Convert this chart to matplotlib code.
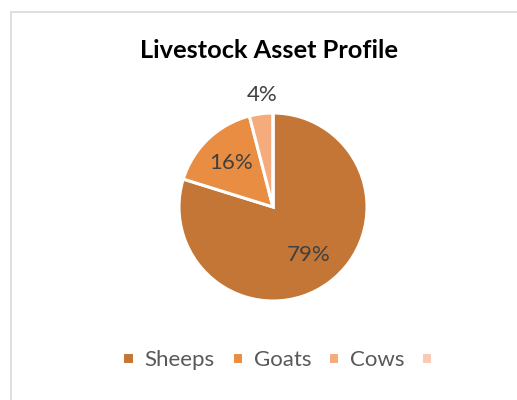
import numpy as np
import matplotlib.pyplot as plt
from matplotlib.patches import Rectangle

# livestock share, percent
animals = ["Sheeps", "Goats", "Cows", ""]
shares = [79, 16, 4, 0]
colors = ["#C37636", "#E98D43", "#F5AB7C", "#F8CBB2"]

plt.rcParams["font.family"] = ["Lato", "DejaVu Sans"]

fig = plt.figure(figsize=(5.17, 4.0), dpi=100)
W, H = 517, 400

# chart area outline
fig.patches.append(Rectangle((11 / W, -0.1), 1.2, (400 - 12) / H + 0.1,
                             transform=fig.transFigure, fill=False,
                             edgecolor="#D9D9D9", linewidth=1.2))

fig.text(269 / W, 1 - 51 / H, "Livestock Asset Profile", ha="center", va="center",
         fontsize=18.3, fontweight="bold", color="black")

cx, cy, r = 273, 207, 94
ax = fig.add_axes([(cx - r) / W, (H - cy - r) / H, 2 * r / W, 2 * r / H])
wedges, _ = ax.pie(shares, colors=colors, startangle=90, counterclock=False,
                   radius=1, wedgeprops=dict(edgecolor="white", linewidth=2.2))
ax.set_xlim(-1, 1)
ax.set_ylim(-1, 1)
ax.axis("off")

# data labels: inside for big slices, outside for the small one
for w, v in zip(wedges, shares):
    if v == 0:
        continue
    mid = np.deg2rad((w.theta1 + w.theta2) / 2)
    d = 0.64 if v > 10 else 1.2
    x, y = d * np.cos(mid), d * np.sin(mid)
    if v <= 10:
        x += 0.04
    ax.text(x, y, f"{v}%", ha="center", va="center", fontsize=16,
            color="#404040", clip_on=False)

fig.legend(wedges, animals, loc="center", bbox_to_anchor=(283 / W, 1 - 360 / H),
           ncol=4, frameon=False, fontsize=16, labelcolor="#595959",
           handlelength=0.5, handleheight=0.5, handletextpad=0.5,
           columnspacing=0.75)

fig.savefig("out.png", dpi=100)
